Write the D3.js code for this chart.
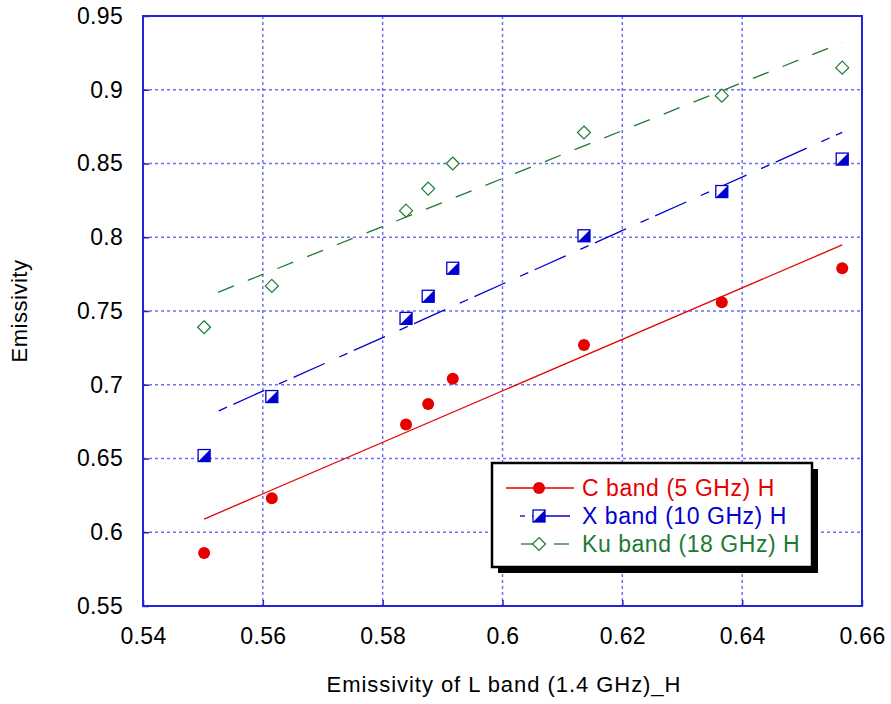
<!DOCTYPE html>
<html><head><meta charset="utf-8">
<script src="https://cdn.jsdelivr.net/npm/d3@7"></script>
<style>body{margin:0;background:#fff}svg{display:block;font-family:"Liberation Sans",Arial,sans-serif}</style>
</head><body><svg id="c" width="891" height="704"></svg>
<script>
const lBand = [0.5502, 0.5615, 0.5839, 0.5876, 0.5917, 0.6136, 0.6366, 0.6567];
const cBand = [0.586, 0.623, 0.673, 0.687, 0.704, 0.727, 0.756, 0.779];
const xBand = [0.652, 0.692, 0.745, 0.760, 0.779, 0.801, 0.831, 0.853];
const kuBand = [0.739, 0.767, 0.818, 0.833, 0.850, 0.871, 0.896, 0.915];
const xTicks = [0.54, 0.56, 0.58, 0.6, 0.62, 0.64, 0.66];
const yTicks = [0.55, 0.6, 0.65, 0.7, 0.75, 0.8, 0.85, 0.9, 0.95];
const seriesNames = ["C band (5 GHz) H", "X band (10 GHz) H", "Ku band (18 GHz) H"];

const L = 143, R = 862, T = 16, B = 606;
const x = d3.scaleLinear().domain([0.54, 0.66]).range([L, R]);
const y = d3.scaleLinear().domain([0.55, 0.95]).range([B, T]);
const svg = d3.select("#c");

// grid
const gridCol = "#6f6ff0";
svg.append("g").selectAll("line").data(xTicks.slice(1, -1)).join("line")
  .attr("x1", d => x(d)).attr("x2", d => x(d)).attr("y1", T).attr("y2", B)
  .attr("stroke", gridCol).attr("stroke-width", 1.5).attr("stroke-dasharray", "3,3");
svg.append("g").selectAll("line").data(yTicks.slice(1, -1)).join("line")
  .attr("y1", d => y(d)).attr("y2", d => y(d)).attr("x1", L).attr("x2", R)
  .attr("stroke", gridCol).attr("stroke-width", 1.5).attr("stroke-dasharray", "3,3");

// axes
const fmt = d => String(+d.toFixed(2));
const xAxis = svg.append("g").attr("transform", `translate(0,${B})`)
  .call(d3.axisBottom(x).tickValues(xTicks).tickFormat(fmt).tickSize(-6).tickPadding(22));
const yAxis = svg.append("g").attr("transform", `translate(${L},0)`)
  .call(d3.axisLeft(y).tickValues(yTicks).tickFormat(fmt).tickSize(-6).tickPadding(20));
[xAxis, yAxis].forEach(a => {
  a.select(".domain").remove();
  a.selectAll(".tick line").attr("stroke", "#2020d8").attr("stroke-width", 1.5);
  a.selectAll("text").attr("font-size", 23).attr("fill", "#000").attr("letter-spacing", 0.3)
    .attr("font-family", '"Liberation Sans",Arial,sans-serif');
});
svg.append("rect").attr("x", L).attr("y", T).attr("width", R - L).attr("height", B - T)
  .attr("fill", "none").attr("stroke", "#2424dc").attr("stroke-width", 2);

// regression
function fit(xs, ys) {
  const mx = d3.mean(xs), my = d3.mean(ys);
  let sxy = 0, sxx = 0;
  xs.forEach((v, i) => { sxy += (v - mx) * (ys[i] - my); sxx += (v - mx) * (v - mx); });
  const b = sxy / sxx, a = my - b * mx;
  const x0 = d3.min(xs), x1 = d3.max(xs);
  return [[x0, a + b * x0], [x1, a + b * x1]];
}
const series = [
  {vals: cBand, color: "#e60000", dash: null, off: 0, type: "circle"},
  {vals: xBand, color: "#0000d0", dash: "34,16,9,7", off: 34, type: "square"},
  {vals: kuBand, color: "#1e7a32", dash: "17,15", off: 17, type: "diamond"}
];
const line = d3.line().x(d => x(d[0])).y(d => y(d[1]));
series.forEach(s => {
  svg.append("path").attr("d", line(fit(lBand, s.vals))).attr("fill", "none")
    .attr("stroke", s.color).attr("stroke-width", 1.3)
    .attr("stroke-dasharray", s.dash).attr("stroke-dashoffset", s.off);
});

function marker(g, type, cx, cy, color) {
  if (type === "circle") {
    g.append("circle").attr("cx", cx).attr("cy", cy).attr("r", 6).attr("fill", color);
  } else if (type === "square") {
    const h = 6;
    g.append("rect").attr("x", cx - h).attr("y", cy - h).attr("width", 2 * h).attr("height", 2 * h)
      .attr("fill", "#fff").attr("stroke", color).attr("stroke-width", 1.3);
    g.append("path").attr("d", `M${cx + h},${cy - h}L${cx + h},${cy + h}L${cx - h},${cy + h}Z`).attr("fill", color);
  } else {
    const h = 6.5;
    g.append("path").attr("d", `M${cx},${cy - h}L${cx + h},${cy}L${cx},${cy + h}L${cx - h},${cy}Z`)
      .attr("fill", "#fff").attr("stroke", color).attr("stroke-width", 1.2);
  }
}
series.forEach(s => {
  const g = svg.append("g");
  lBand.forEach((v, i) => marker(g, s.type, x(v), y(s.vals[i]), s.color));
});

// legend
const lg = svg.append("g");
lg.append("rect").attr("x", 498).attr("y", 469).attr("width", 320).attr("height", 104).attr("fill", "#000");
lg.append("rect").attr("x", 492).attr("y", 463).attr("width", 320).attr("height", 104)
  .attr("fill", "#fff").attr("stroke", "#000").attr("stroke-width", 2.5);
const rowsY = [488, 516, 544];
series.forEach((s, i) => {
  const yy = rowsY[i];
  const seg = (a, b) => lg.append("line").attr("x1", a).attr("x2", b).attr("y1", yy).attr("y2", yy)
    .attr("stroke", s.color).attr("stroke-width", 1.3);
  if (i === 0) { seg(506, 574); }
  else if (i === 1) { seg(520, 525); seg(532, 570); }
  else { seg(521, 533); seg(554, 569); }
  marker(lg, s.type, 539, yy, s.color);
  lg.append("text").attr("x", 582).attr("y", yy + 8).attr("font-size", 23).attr("letter-spacing", 0.55)
    .attr("fill", s.color).text(seriesNames[i]);
});

// axis titles
svg.append("text").attr("x", 504).attr("y", 692).attr("text-anchor", "middle").attr("font-size", 22)
  .attr("letter-spacing", 0.95).text("Emissivity of L band (1.4 GHz)_H");
svg.append("text").attr("transform", "translate(27,311) rotate(-90)").attr("text-anchor", "middle").attr("font-size", 22)
  .attr("letter-spacing", 0.5).text("Emissivity");
</script></body></html>
